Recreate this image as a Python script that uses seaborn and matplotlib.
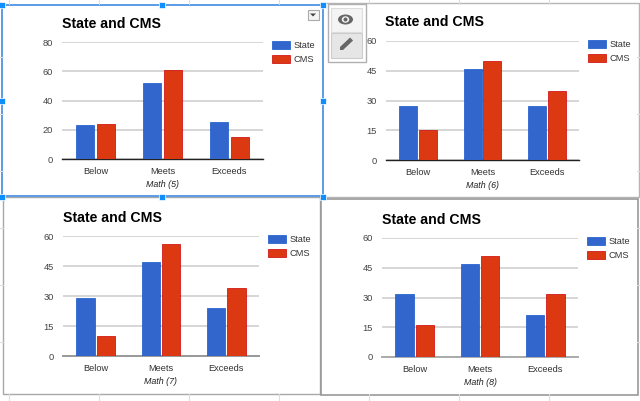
import pandas as pd
import seaborn as sns
import matplotlib.pyplot as plt
from matplotlib.patches import Rectangle, Ellipse, Polygon

# Values
categories = ["Below", "Meets", "Exceeds"]
series_names = ["State", "CMS"]
state_5 = [23, 52, 25]
cms_5 = [24, 61, 15]
state_6 = [27, 46, 27]
cms_6 = [15, 50, 35]
state_7 = [29, 47, 24]
cms_7 = [10, 56, 34]
state_8 = [32, 47, 21]
cms_8 = [16, 51, 32]
ticks_5 = [0, 20, 40, 60, 80]
ticks_other = [0, 15, 30, 45, 60]

W, H = 640, 401
BLUE = "#3366cc"
RED = "#dc3912"

sns.set_theme(style="white")
plt.rcParams["font.family"] = ["Liberation Sans", "DejaVu Sans"]

fig = plt.figure(figsize=(W / 100, H / 100), dpi=100, facecolor="white")

# Full-figure axes in pixel coordinates for the sheet around the charts
bg = fig.add_axes([0, 0, 1, 1], zorder=0)
bg.set_xlim(0, W)
bg.set_ylim(H, 0)
bg.axis("off")


def px_axes(left, top, right, bottom, z=2):
    return fig.add_axes(
        [left / W, 1 - bottom / H, (right - left) / W, (bottom - top) / H], zorder=z
    )


def box(ax, x0, y0, x1, y1, **kw):
    ax.add_patch(Rectangle((x0, y0), x1 - x0, y1 - y0, **kw))


# spreadsheet cell lines showing behind the charts
for x in [9, 99, 189, 279, 369, 459, 549]:
    bg.plot([x, x], [0, 4], color="#dddddd", lw=0.8)
    bg.plot([x, x], [394, H], color="#dddddd", lw=0.8)
for y in [57, 114, 171, 228, 285, 342]:
    bg.plot([0, 3], [y, y], color="#dddddd", lw=0.8)
    bg.plot([637, W], [y, y], color="#dddddd", lw=0.8)

# chart frames
box(bg, 320, 3, 639, 197, fc="white", ec="#b5b5b5", lw=1)
box(bg, 3, 197, 320, 394, fc="white", ec="#a8a8a8", lw=1)
box(bg, 321, 199, 638, 395, fc="white", ec="#999999", lw=1.2)
box(bg, 2, 5, 323, 196, fc="white", ec="#5b9be6", lw=1.4)


def draw_chart(rect, state, cms, ticks, label, tx, lx, base_color, base_lw):
    left, top, right, bottom = rect
    ax = px_axes(left, top, right, bottom)
    ax.patch.set_alpha(0)
    df = pd.DataFrame(
        {
            "category": categories * 2,
            "series": [series_names[0]] * 3 + [series_names[1]] * 3,
            "value": state + cms,
        }
    )
    sns.barplot(
        data=df,
        x="category",
        y="value",
        hue="series",
        palette=[BLUE, RED],
        width=0.62,
        gap=0.1,
        saturation=1,
        edgecolor="none",
        ax=ax,
        zorder=3,
    )
    # thin darker outline like the original bars
    for bar in ax.patches:
        dark = "#1155cc" if bar.get_facecolor()[2] > 0.5 else "#cc0000"
        bar.set_edgecolor(dark)
        bar.set_linewidth(0.5)
    ax.set_xlim(-0.5, 2.5)
    ax.set_ylim(0, ticks[-1])
    ax.set_yticks(ticks)
    ax.set_xlabel("")
    ax.set_ylabel("")
    ax.grid(axis="y", color="#cccccc", lw=1.1, zorder=0)
    ax.set_axisbelow(True)
    for s in ["top", "left", "right"]:
        ax.spines[s].set_visible(False)
    ax.spines["bottom"].set_color(base_color)
    ax.spines["bottom"].set_linewidth(base_lw)
    ax.tick_params(axis="x", length=0, pad=5.5, labelsize=6.7, labelcolor="#333333")
    ax.tick_params(axis="y", length=0, pad=6.5, labelsize=6.7, labelcolor="#444444")

    bg.text(tx, top - 18.5, "State and CMS", fontsize=10.2, fontweight="bold",
            color="black", va="center", ha="left", zorder=5)
    bg.text((left + right) / 2, bottom + 25.5, label, fontsize=6.4, style="italic",
            color="#222222", va="center", ha="center", zorder=5)

    ax.legend(
        loc="upper left",
        bbox_to_anchor=((lx - left) / (right - left), 1.01),
        frameon=False,
        fontsize=6.7,
        handlelength=1.93,
        handleheight=0.9,
        handletextpad=0.42,
        labelspacing=0.55,
        borderpad=0,
        borderaxespad=0,
        title=None,
        labelcolor="#333333",
    )


draw_chart((62, 42, 263, 159), state_5, cms_5, ticks_5, "Math (5)", 62, 272, "#222222", 1)
draw_chart((386, 41, 579, 160), state_6, cms_6, ticks_other, "Math (6)", 385, 588, "#222222", 1)
draw_chart((63, 236, 259, 356), state_7, cms_7, ticks_other, "Math (7)", 63, 268, "#999999", 1.4)
draw_chart((382, 238, 578, 357), state_8, cms_8, ticks_other, "Math (8)", 382, 587, "#aaaaaa", 1.4)

# overlay for the editor widgets
top_ax = fig.add_axes([0, 0, 1, 1], zorder=10)
top_ax.set_xlim(0, W)
top_ax.set_ylim(H, 0)
top_ax.axis("off")
top_ax.patch.set_alpha(0)

# selection handles
for hx in [2, 162, 323]:
    for hy in [5, 197]:
        box(top_ax, hx - 3, hy - 3, hx + 3, hy + 3, fc="#0f8fff", ec="white", lw=0.5)
for hx in [2, 323]:
    box(top_ax, hx - 3, 98, hx + 3, 104, fc="#0f8fff", ec="white", lw=0.5)

# dropdown button on the selected chart
box(top_ax, 307.5, 9.5, 318.5, 20, fc="#f5f5f5", ec="#aaaaaa", lw=0.8)
top_ax.add_patch(Polygon([[310, 13.5], [316, 13.5], [313, 16.5]], fc="#444444", ec="none"))

# eye / pencil toolbar
box(top_ax, 327.5, 3.5, 365.5, 61.5, fc="white", ec="#b0b0b0", lw=1)
box(top_ax, 330.5, 7.5, 361.5, 32, fc="#f4f4f4", ec="#dddddd", lw=0.8)
box(top_ax, 330.5, 33, 361.5, 58, fc="#e6e6e6", ec="#cccccc", lw=0.8)
top_ax.add_patch(Ellipse((345.5, 19.5), 15, 10, fc="#666666", ec="none"))
top_ax.add_patch(Ellipse((345.5, 19.5), 7.5, 6.5, fc="#f4f4f4", ec="none"))
top_ax.add_patch(Ellipse((345.5, 19.5), 4, 4, fc="#666666", ec="none"))
top_ax.add_patch(Polygon([[340, 47], [340, 50], [343, 50], [352, 41.5], [349, 38.5]],
                         fc="#666666", ec="none"))
top_ax.add_patch(Polygon([[350, 37.5], [353, 40.5], [351.8, 41.8], [348.8, 38.8]],
                         fc="#666666", ec="none"))

fig.savefig("out.png", dpi=100)
